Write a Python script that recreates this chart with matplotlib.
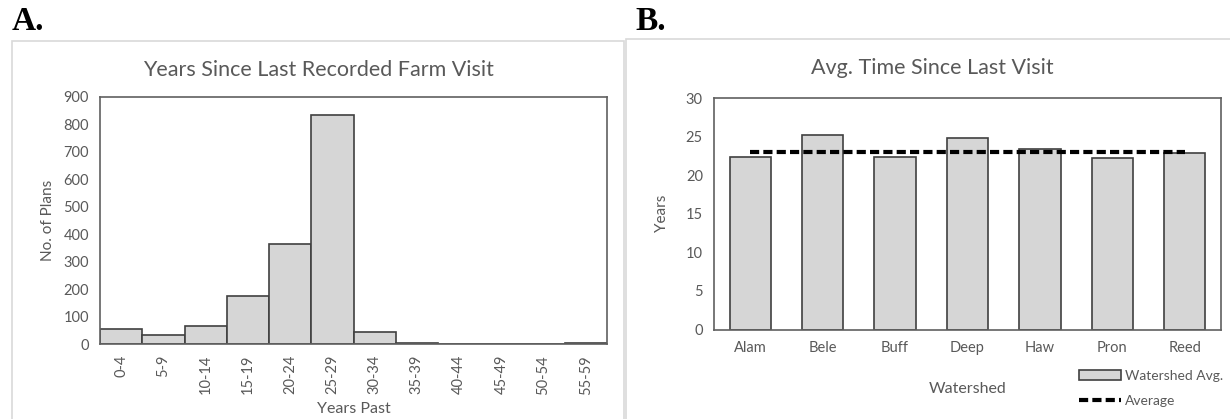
import numpy as np
import matplotlib.pyplot as plt
from matplotlib.patches import Rectangle

# Panel A: histogram of years since last visit
year_bins = ["0-4", "5-9", "10-14", "15-19", "20-24", "25-29",
             "30-34", "35-39", "40-44", "45-49", "50-54", "55-59"]
plan_counts = [55, 34, 64, 176, 365, 836, 43, 3, 1, 1, 1, 4]

# Panel B: average time by watershed
watersheds = ["Alam", "Bele", "Buff", "Deep", "Haw", "Pron", "Reed"]
watershed_avg = [22.4, 25.15, 22.4, 24.8, 23.4, 22.2, 22.9]
overall_avg = 23.0

W, H = 1230, 419
TXT = "#595959"
BAR = "#d6d6d6"
EDGE = "#404040"

plt.rcParams['font.family'] = ['Lato', 'DejaVu Sans']

fig = plt.figure(figsize=(W / 100, H / 100), dpi=100)


def px(x0, y0, x1, y1):
    # pixel box (top-left origin) -> figure fraction rect
    return [x0 / W, 1 - y1 / H, (x1 - x0) / W, (y1 - y0) / H]


# light panel frames
for (x0, y0, x1, y1) in [(12, 41, 624, 425), (626, 39, 1240, 425)]:
    fig.patches.append(Rectangle((x0 / W, 1 - y1 / H), (x1 - x0) / W, (y1 - y0) / H,
                                 transform=fig.transFigure, fill=False,
                                 edgecolor="#d9d9d9", linewidth=1.2))

fig.text(12 / W, 1 - 22 / H, "A.", family="Liberation Serif", weight="bold",
         fontsize=24, va="center", ha="left", color="black")
fig.text(635 / W, 1 - 22 / H, "B.", family="Liberation Serif", weight="bold",
         fontsize=24, va="center", ha="left", color="black")

# ---- Panel A
axA = fig.add_axes(px(100, 97, 607, 344))
xa = np.arange(len(year_bins))
axA.bar(xa, plan_counts, width=1.0, color=BAR, edgecolor=EDGE, linewidth=1.2)
axA.set_xlim(-0.5, len(year_bins) - 0.5)
axA.set_ylim(0, 900)
axA.set_yticks(range(0, 901, 100))
axA.set_xticks(xa)
axA.set_xticklabels(year_bins, rotation=90)
axA.set_ylabel("No. of Plans", fontsize=11, color=TXT, labelpad=6)
axA.set_xlabel("Years Past", fontsize=11.5, color=TXT, labelpad=5)
fig.text(318 / W, 1 - 70 / H, "Years Since Last Recorded Farm Visit",
         fontsize=15.5, color=TXT, ha="center", va="center")

# ---- Panel B
axB = fig.add_axes(px(714, 98, 1221, 329.5))
xb = np.arange(len(watersheds))
axB.bar(xb, watershed_avg, width=0.57, color=BAR, edgecolor=EDGE,
        linewidth=1.2, label="Watershed Avg.")
axB.plot(xb, [overall_avg] * len(xb), color="black", linewidth=3,
         dashes=(2.2, 1.0), label="Average")
axB.set_xlim(-0.5, len(watersheds) - 0.5)
axB.set_ylim(0, 30)
axB.set_yticks(range(0, 31, 5))
axB.set_xticks(xb)
axB.set_xticklabels(watersheds)
axB.get_yticklabels()[0].set_color("#d0d0d0")
axB.set_ylabel("Years", fontsize=11, color=TXT, labelpad=12)
axB.set_xlabel("Watershed", fontsize=11.5, color=TXT, labelpad=20)
fig.text(932 / W, 1 - 68 / H, "Avg. Time Since Last Visit",
         fontsize=15.5, color=TXT, ha="center", va="center")

for ax in (axA, axB):
    ax.tick_params(length=0, labelsize=10.5, labelcolor=TXT, pad=8)
    for s in ax.spines.values():
        s.set_color("#606060")
        s.set_linewidth(1.2)

handles, labels = axB.get_legend_handles_labels()
order = [labels.index("Watershed Avg."), labels.index("Average")]
fig.legend([handles[i] for i in order], [labels[i] for i in order],
           loc="upper left", bbox_to_anchor=(1079 / W, 1 - 370 / H),
           frameon=False, fontsize=10, labelcolor=TXT, handlelength=3.0,
           handletextpad=0.3, labelspacing=0.9, borderpad=0, borderaxespad=0)

fig.savefig("out.png", dpi=100)
